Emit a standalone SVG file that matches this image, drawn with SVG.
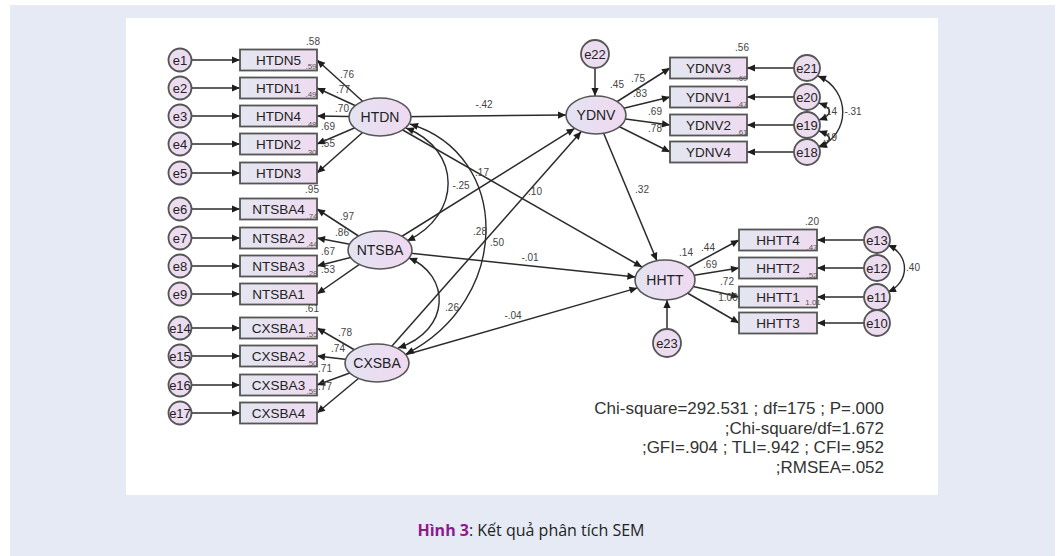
<svg xmlns="http://www.w3.org/2000/svg" width="1058" height="556" viewBox="0 0 1058 556">
<defs>
<linearGradient id="gb" x1="0" y1="0" x2="1" y2="0"><stop offset="0" stop-color="#e3e6f1"/><stop offset="1" stop-color="#eedbef"/></linearGradient>
<linearGradient id="ge" x1="0" y1="0" x2="1" y2="0"><stop offset="0" stop-color="#e3e3f2"/><stop offset="1" stop-color="#f0d9f0"/></linearGradient>
<marker id="ah" viewBox="0 0 10 10" refX="10" refY="5" markerWidth="10" markerHeight="8" markerUnits="userSpaceOnUse" orient="auto-start-reverse"><path d="M0,0.5 L10,5 L0,9.5 z" fill="#1e1e1e"/></marker>
<style>
.ln{stroke:#2b2b2b;stroke-width:1.5;fill:none;marker-end:url(#ah)}
.cv{stroke:#2b2b2b;stroke-width:1.4;fill:none;marker-end:url(#ah);marker-start:url(#ah)}
.box{fill:url(#gb);stroke:#555;stroke-width:1.8}
.lat{fill:url(#ge);stroke:#555;stroke-width:1.6}
.err{fill:#ecdcf0;stroke:#555;stroke-width:1.8}
text{font-family:"Liberation Sans",Arial,sans-serif;fill:#222}
.nl{font-size:13.5px;text-anchor:middle}
.ll{font-size:14px;text-anchor:middle}
.el{font-size:13px;text-anchor:middle}
.cf{font-size:10px;fill:#444;text-anchor:middle}
.sm{font-size:8px;fill:#555;text-anchor:middle}
.st{font-size:17px;fill:#333;text-anchor:end}
.cap{font-family:"Open Sans","Noto Sans",sans-serif;font-size:16px;text-anchor:middle}
</style>
</defs>
<rect x="10" y="5" width="1045" height="551" fill="#e6eaf5"/>
<rect x="126" y="18" width="812" height="477" fill="#ffffff"/>

<g id="connectors">
<line class="ln" x1="191.5" y1="60" x2="240" y2="60"/>
<line class="ln" x1="191.5" y1="88" x2="240" y2="88"/>
<line class="ln" x1="191.5" y1="116" x2="240" y2="116"/>
<line class="ln" x1="191.5" y1="144" x2="240" y2="144"/>
<line class="ln" x1="191.5" y1="173" x2="240" y2="173"/>
<line class="ln" x1="191.5" y1="209" x2="240" y2="209"/>
<line class="ln" x1="191.5" y1="238" x2="240" y2="238"/>
<line class="ln" x1="191.5" y1="266" x2="240" y2="266"/>
<line class="ln" x1="191.5" y1="294" x2="240" y2="294"/>
<line class="ln" x1="191.5" y1="328" x2="240" y2="328"/>
<line class="ln" x1="191.5" y1="356" x2="240" y2="356"/>
<line class="ln" x1="191.5" y1="385" x2="240" y2="385"/>
<line class="ln" x1="191.5" y1="413" x2="240" y2="413"/>
<line class="ln" x1="380" y1="117" x2="317" y2="60"/>
<line class="ln" x1="380" y1="117" x2="317" y2="88"/>
<line class="ln" x1="380" y1="117" x2="317" y2="116"/>
<line class="ln" x1="380" y1="117" x2="317" y2="144"/>
<line class="ln" x1="380" y1="117" x2="317" y2="173"/>
<line class="ln" x1="380" y1="250" x2="317" y2="209"/>
<line class="ln" x1="380" y1="250" x2="317" y2="238"/>
<line class="ln" x1="380" y1="250" x2="317" y2="266"/>
<line class="ln" x1="380" y1="250" x2="317" y2="294"/>
<line class="ln" x1="377" y1="363" x2="317" y2="328"/>
<line class="ln" x1="377" y1="363" x2="317" y2="356"/>
<line class="ln" x1="377" y1="363" x2="317" y2="385"/>
<line class="ln" x1="377" y1="363" x2="317" y2="413"/>
<line class="ln" x1="596" y1="115" x2="670" y2="68"/>
<line class="ln" x1="596" y1="115" x2="670" y2="97"/>
<line class="ln" x1="596" y1="115" x2="670" y2="125"/>
<line class="ln" x1="596" y1="115" x2="670" y2="152"/>
<line class="ln" x1="794" y1="68" x2="747" y2="68"/>
<line class="ln" x1="794" y1="97" x2="747" y2="97"/>
<line class="ln" x1="794" y1="125" x2="747" y2="125"/>
<line class="ln" x1="794" y1="152" x2="747" y2="152"/>
<line class="ln" x1="595" y1="68.5" x2="595" y2="96"/>
<line class="ln" x1="665" y1="280" x2="739" y2="240"/>
<line class="ln" x1="665" y1="280" x2="739" y2="268"/>
<line class="ln" x1="665" y1="280" x2="739" y2="297"/>
<line class="ln" x1="665" y1="280" x2="739" y2="323"/>
<line class="ln" x1="864" y1="240" x2="817" y2="240"/>
<line class="ln" x1="864" y1="268" x2="817" y2="268"/>
<line class="ln" x1="864" y1="297" x2="817" y2="297"/>
<line class="ln" x1="864" y1="323" x2="817" y2="323"/>
<line class="ln" x1="667" y1="329" x2="667" y2="300"/>
<line class="ln" x1="380" y1="117" x2="566" y2="115"/>
<line class="ln" x1="380" y1="117" x2="642" y2="267"/>
<line class="ln" x1="380" y1="250" x2="635.4" y2="276.9"/>
<line class="ln" x1="377" y1="363" x2="637.5" y2="287.9"/>
<line class="ln" x1="596" y1="115" x2="656.9" y2="260.7"/>
<line class="ln" x1="380" y1="250" x2="574.6" y2="128.4"/>
<line class="ln" x1="377" y1="363" x2="581.3" y2="131.6"/>
<path class="cv" d="M406,128 C462,150 462,215 407,241"/>
<path class="cv" d="M410,124 C512,155 512,300 406,354"/>
<path class="cv" d="M409,258 C450,275 452,330 398,348"/>
<path class="cv" d="M818,76 C851,90 851,135 818,147"/>
<path class="cv" d="M819,103 C833,108 833,115 819,120"/>
<path class="cv" d="M819,131 C833,136 833,142 819,147"/>
<path class="cv" d="M888,245 C910,255 910,282 888,292"/>
</g>

<g id="e1"><circle class="err" cx="180" cy="60" r="11.5"/><text class="el" x="180" y="64.5">e1</text></g>
<g id="e2"><circle class="err" cx="180" cy="88" r="11.5"/><text class="el" x="180" y="92.5">e2</text></g>
<g id="e3"><circle class="err" cx="180" cy="116" r="11.5"/><text class="el" x="180" y="120.5">e3</text></g>
<g id="e4"><circle class="err" cx="180" cy="144" r="11.5"/><text class="el" x="180" y="148.5">e4</text></g>
<g id="e5"><circle class="err" cx="180" cy="173" r="11.5"/><text class="el" x="180" y="177.5">e5</text></g>
<g id="e6"><circle class="err" cx="180" cy="209" r="11.5"/><text class="el" x="180" y="213.5">e6</text></g>
<g id="e7"><circle class="err" cx="180" cy="238" r="11.5"/><text class="el" x="180" y="242.5">e7</text></g>
<g id="e8"><circle class="err" cx="180" cy="266" r="11.5"/><text class="el" x="180" y="270.5">e8</text></g>
<g id="e9"><circle class="err" cx="180" cy="294" r="11.5"/><text class="el" x="180" y="298.5">e9</text></g>
<g id="e14"><circle class="err" cx="180" cy="328" r="11.5"/><text class="el" x="180" y="332.5">e14</text></g>
<g id="e15"><circle class="err" cx="180" cy="356" r="11.5"/><text class="el" x="180" y="360.5">e15</text></g>
<g id="e16"><circle class="err" cx="180" cy="385" r="11.5"/><text class="el" x="180" y="389.5">e16</text></g>
<g id="e17"><circle class="err" cx="180" cy="413" r="11.5"/><text class="el" x="180" y="417.5">e17</text></g>

<g id="HTDN5"><rect class="box" x="240" y="49.5" width="77" height="21"/><text class="nl" x="278.5" y="65">HTDN5</text></g>
<g id="HTDN1"><rect class="box" x="240" y="77.5" width="77" height="21"/><text class="nl" x="278.5" y="93">HTDN1</text></g>
<g id="HTDN4"><rect class="box" x="240" y="105.5" width="77" height="21"/><text class="nl" x="278.5" y="121">HTDN4</text></g>
<g id="HTDN2"><rect class="box" x="240" y="133.5" width="77" height="21"/><text class="nl" x="278.5" y="149">HTDN2</text></g>
<g id="HTDN3"><rect class="box" x="240" y="162.5" width="77" height="21"/><text class="nl" x="278.5" y="178">HTDN3</text></g>
<g id="NTSBA4"><rect class="box" x="240" y="198.5" width="77" height="21"/><text class="nl" x="278.5" y="214">NTSBA4</text></g>
<g id="NTSBA2"><rect class="box" x="240" y="227.5" width="77" height="21"/><text class="nl" x="278.5" y="243">NTSBA2</text></g>
<g id="NTSBA3"><rect class="box" x="240" y="255.5" width="77" height="21"/><text class="nl" x="278.5" y="271">NTSBA3</text></g>
<g id="NTSBA1"><rect class="box" x="240" y="283.5" width="77" height="21"/><text class="nl" x="278.5" y="299">NTSBA1</text></g>
<g id="CXSBA1"><rect class="box" x="240" y="317.5" width="77" height="21"/><text class="nl" x="278.5" y="333">CXSBA1</text></g>
<g id="CXSBA2"><rect class="box" x="240" y="345.5" width="77" height="21"/><text class="nl" x="278.5" y="361">CXSBA2</text></g>
<g id="CXSBA3"><rect class="box" x="240" y="374.5" width="77" height="21"/><text class="nl" x="278.5" y="390">CXSBA3</text></g>
<g id="CXSBA4"><rect class="box" x="240" y="402.5" width="77" height="21"/><text class="nl" x="278.5" y="418">CXSBA4</text></g>

<g id="HTDN"><ellipse class="lat" cx="380" cy="117" rx="31" ry="19"/><text class="ll" x="380" y="122">HTDN</text></g>
<g id="NTSBA"><ellipse class="lat" cx="380" cy="250" rx="32" ry="19"/><text class="ll" x="380" y="255">NTSBA</text></g>
<g id="CXSBA"><ellipse class="lat" cx="377" cy="363" rx="32" ry="19"/><text class="ll" x="377" y="368">CXSBA</text></g>
<g id="YDNV"><ellipse class="lat" cx="596" cy="115" rx="30" ry="19"/><text class="ll" x="596" y="120">YDNV</text></g>
<g id="HHTT"><ellipse class="lat" cx="665" cy="280" rx="30" ry="20"/><text class="ll" x="665" y="285">HHTT</text></g>

<g id="e22"><circle class="err" cx="595" cy="54" r="14"/><text class="el" x="595" y="58.5">e22</text></g>
<g id="e23"><circle class="err" cx="667" cy="343" r="14"/><text class="el" x="667" y="347.5">e23</text></g>

<g id="YDNV3"><rect class="box" x="670" y="57.5" width="77" height="21"/><text class="nl" x="708.5" y="73">YDNV3</text></g>
<g id="YDNV1"><rect class="box" x="670" y="86.5" width="77" height="21"/><text class="nl" x="708.5" y="102">YDNV1</text></g>
<g id="YDNV2"><rect class="box" x="670" y="114.5" width="77" height="21"/><text class="nl" x="708.5" y="130">YDNV2</text></g>
<g id="YDNV4"><rect class="box" x="670" y="141.5" width="77" height="21"/><text class="nl" x="708.5" y="157">YDNV4</text></g>
<g id="e21"><circle class="err" cx="807" cy="68" r="13"/><text class="el" x="807" y="72.5">e21</text></g>
<g id="e20"><circle class="err" cx="807" cy="97" r="13"/><text class="el" x="807" y="101.5">e20</text></g>
<g id="e19"><circle class="err" cx="807" cy="125" r="13"/><text class="el" x="807" y="129.5">e19</text></g>
<g id="e18"><circle class="err" cx="807" cy="152" r="13"/><text class="el" x="807" y="156.5">e18</text></g>

<g id="HHTT4"><rect class="box" x="739" y="229.5" width="78" height="21"/><text class="nl" x="778" y="245">HHTT4</text></g>
<g id="HHTT2"><rect class="box" x="739" y="257.5" width="78" height="21"/><text class="nl" x="778" y="273">HHTT2</text></g>
<g id="HHTT1"><rect class="box" x="739" y="286.5" width="78" height="21"/><text class="nl" x="778" y="302">HHTT1</text></g>
<g id="HHTT3"><rect class="box" x="739" y="312.5" width="78" height="21"/><text class="nl" x="778" y="328">HHTT3</text></g>
<g id="e13"><circle class="err" cx="877" cy="240" r="13"/><text class="el" x="877" y="244.5">e13</text></g>
<g id="e12"><circle class="err" cx="877" cy="268" r="13"/><text class="el" x="877" y="272.5">e12</text></g>
<g id="e11"><circle class="err" cx="877" cy="297" r="13"/><text class="el" x="877" y="301.5">e11</text></g>
<g id="e10"><circle class="err" cx="877" cy="323" r="13"/><text class="el" x="877" y="327.5">e10</text></g>

<g id="labels">
<text class="cf" x="313" y="45">.58</text>
<text class="cf" x="347" y="78">.76</text>
<text class="cf" x="343" y="93">.77</text>
<text class="cf" x="342" y="112">.70</text>
<text class="cf" x="328" y="130">.69</text>
<text class="cf" x="328" y="147">.55</text>
<text class="sm" x="311" y="69">.59</text>
<text class="sm" x="311" y="97">.49</text>
<text class="sm" x="311" y="127">.48</text>
<text class="sm" x="311" y="155">.30</text>
<text class="cf" x="312" y="193">.95</text>
<text class="cf" x="347" y="220">.97</text>
<text class="cf" x="342" y="236">.86</text>
<text class="cf" x="328" y="255">.67</text>
<text class="cf" x="328" y="273">.53</text>
<text class="sm" x="312" y="219">.74</text>
<text class="sm" x="312" y="247">.44</text>
<text class="sm" x="312" y="276">.28</text>
<text class="cf" x="312" y="312">.61</text>
<text class="cf" x="345" y="336">.78</text>
<text class="cf" x="338" y="352">.74</text>
<text class="cf" x="325" y="372">.71</text>
<text class="cf" x="325" y="390">.77</text>
<text class="sm" x="312" y="337">.55</text>
<text class="sm" x="312" y="366">.50</text>
<text class="sm" x="312" y="394">.59</text>
<text class="cf" x="742" y="51">.56</text>
<text class="cf" x="638" y="82">.75</text>
<text class="cf" x="617" y="88">.45</text>
<text class="cf" x="640" y="97">.83</text>
<text class="cf" x="655" y="115">.69</text>
<text class="cf" x="655" y="132">.78</text>
<text class="sm" x="742" y="81">.69</text>
<text class="sm" x="742" y="107">.47</text>
<text class="sm" x="742" y="135">.61</text>
<text class="cf" x="830" y="115">.14</text>
<text class="cf" x="853" y="115">-.31</text>
<text class="cf" x="830" y="141">.19</text>
<text class="cf" x="812" y="225">.20</text>
<text class="cf" x="686" y="256">.14</text>
<text class="cf" x="708" y="251">.44</text>
<text class="cf" x="710" y="268">.69</text>
<text class="cf" x="727" y="285">.72</text>
<text class="cf" x="728" y="301">1.00</text>
<text class="sm" x="812" y="250">.47</text>
<text class="sm" x="812" y="278">.52</text>
<text class="sm" x="813" y="305">1.01</text>
<text class="cf" x="913" y="271">.40</text>
<text class="cf" x="484" y="108">-.42</text>
<text class="cf" x="461" y="189">-.25</text>
<text class="cf" x="482" y="176">.17</text>
<text class="cf" x="535" y="195">.10</text>
<text class="cf" x="480" y="235">.28</text>
<text class="cf" x="497" y="246">.50</text>
<text class="cf" x="530" y="261">-.01</text>
<text class="cf" x="452" y="311">.26</text>
<text class="cf" x="513" y="319">-.04</text>
<text class="cf" x="642" y="193">.32</text>
</g>

<g id="fit">
<text class="st" x="884" y="414">Chi-square=292.531 ; df=175 ; P=.000</text>
<text class="st" x="884" y="434">;Chi-square/df=1.672</text>
<text class="st" x="884" y="453">;GFI=.904 ; TLI=.942 ; CFI=.952</text>
<text class="st" x="884" y="473">;RMSEA=.052</text>
</g>

<text class="cap" x="531" y="536"><tspan font-weight="bold" fill="#8e1a8e">Hình 3</tspan>: Kết quả phân tích SEM</text>
</svg>
